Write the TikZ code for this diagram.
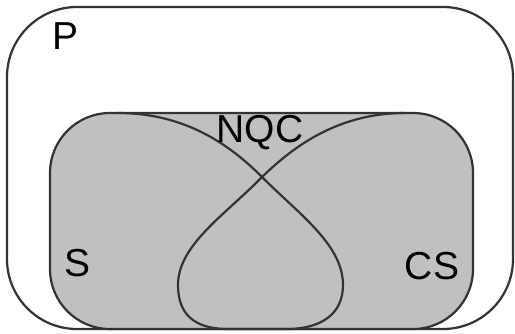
\documentclass[tikz,border=0pt]{standalone}
\usepackage{fontspec}
\setsansfont{Liberation Sans}
\usetikzlibrary{calc}
\tikzset{every picture/.style={/utils/exec={\sffamily}}}
\definecolor{edge}{HTML}{333333}
\definecolor{silver}{HTML}{C0C0C0}
\tikzset{region/.style={draw=edge,line width=2.2pt,rounded corners=#1}}
\tikzset{setname/.style={inner sep=0pt,font=\fontsize{39}{39}\selectfont}}

\begin{document}
\begin{tikzpicture}[x=1pt,y=-1pt]
    \useasboundingbox (0,0) rectangle (515,333);
    % outer set and the grey one inside
    \draw [region=70pt,fill=white] (7,7) rectangle (513,329);
    \draw [region=60pt,fill=silver] (50,113) rectangle (473,329);
    % the crossing loop
    \coordinate (tl) at (118,113);
    \coordinate (x) at (262,177);
    \coordinate (tr) at (405,113);
    \draw [edge,line width=2.2pt]
        (tl) .. controls (190,113) and (235,150) .. (x)
             .. controls (300,215) and (343,245) .. (343,285)
             .. controls (343,315) and (320,328) .. (290,329) -- (225,329)
             .. controls (195,328) and (178,315) .. (178,285)
             .. controls (178,245) and (225,215) .. (x)
             .. controls (290,150) and (335,113) .. (tr);
    \node [setname] (p) at (66,36) {P};
    \node [setname] (nqc) at (260,133) {NQC};
    \node [setname] (s) at (78,263) {S};
    \node [setname] (cs) at (432,266) {CS};
\end{tikzpicture}
\end{document}
